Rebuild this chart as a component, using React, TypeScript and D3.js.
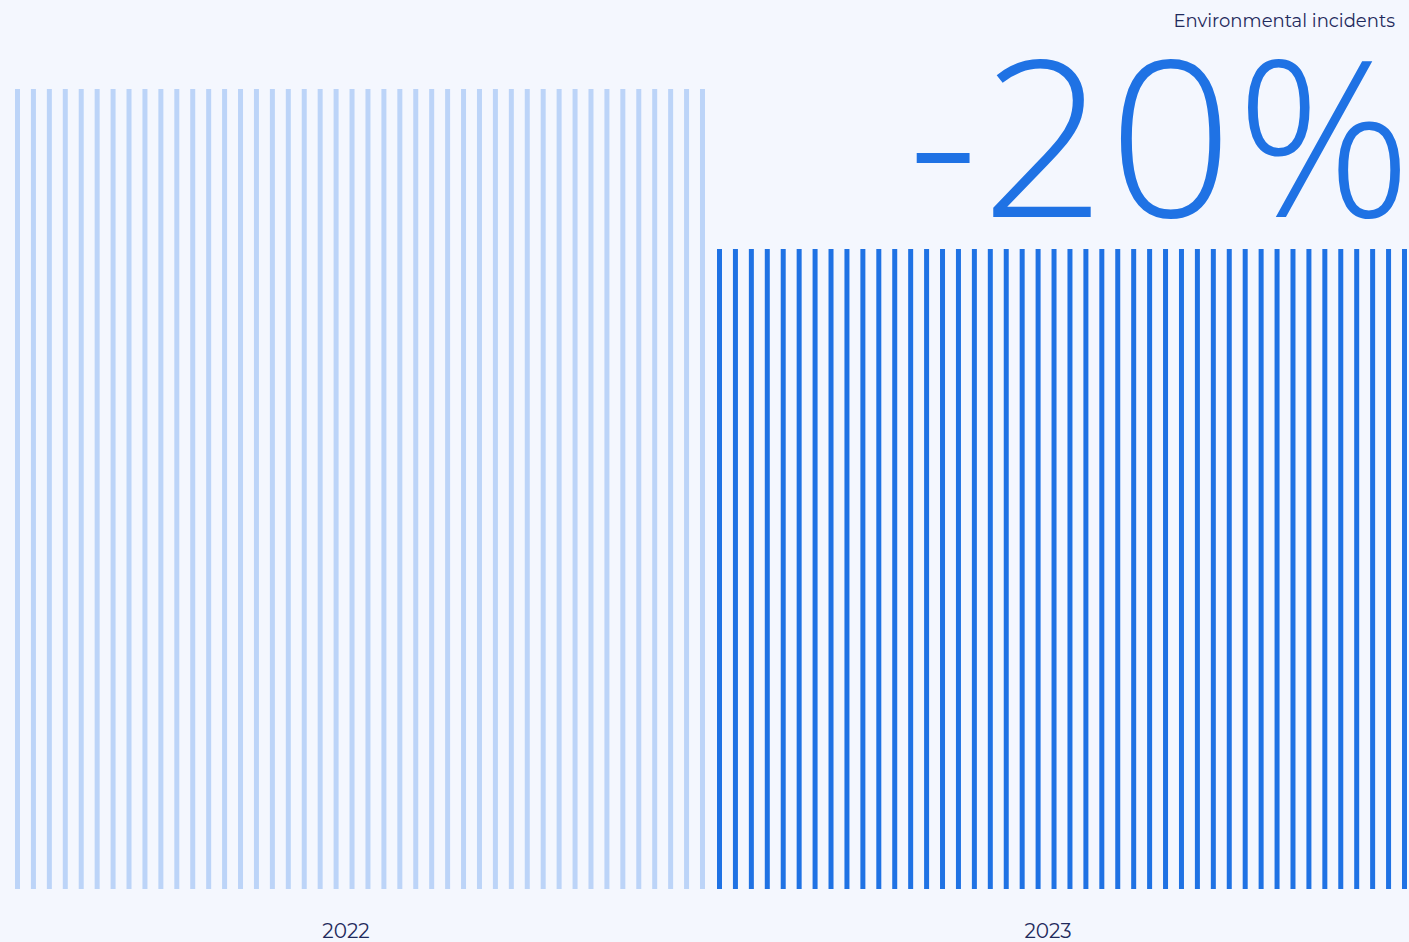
import React from "react";
import * as d3 from "d3";

const categories = ["2022", "2023"];
const values = [100, 80];
const stripeCount = 44;
const title = "Environmental incidents";
const changeLabel = "-20%";

const W = 1409;
const H = 942;

export default function App() {
  const x = d3.scaleBand<string>().domain(categories).range([15, 1419]).paddingInner(0).paddingOuter(0);
  const y = d3.scaleLinear().domain([0, 100]).range([889, 89]);
  const period = 15.93;
  const stripeW = 5;
  const stripes = d3.range(stripeCount);
  const colors = ["#bcd4f8", "#1f72e4"];

  return (
    <div style={{ position: "absolute", left: 0, top: 0, width: W, height: H, background: "#f4f7fe" }}>
      <svg width={W} height={H} style={{ display: "block" }}>
        <rect x={0} y={0} width={W} height={H} fill="#f4f7fe" />
        {categories.map((c, i) => {
          const start = i === 0 ? (x(c) as number) : 717;
          return (
            <g key={c}>
              {stripes.map((k) => (
                <rect
                  key={k}
                  x={start + k * period}
                  y={y(values[i])}
                  width={stripeW}
                  height={y(0) - y(values[i])}
                  fill={colors[i]}
                />
              ))}
              <text
                x={start + (stripeCount - 1) * period / 2 + stripeW / 2 - 14}
                y={938}
                textAnchor="middle"
                fontFamily="Montserrat, 'Open Sans', Lato, sans-serif"
                fontSize={20}
                fill="#1f2a5c"
              >
                {c}
              </text>
            </g>
          );
        })}
        <text
          x={1395}
          y={27}
          textAnchor="end"
          fontFamily="Montserrat, 'Open Sans', Lato, sans-serif"
          fontSize={18}
          fill="#1f2a5c"
        >
          {title}
        </text>
        <text
          x={1415}
          y={217}
          textAnchor="end"
          fontFamily="'Open Sans', sans-serif"
          fontWeight={300}
          fontSize={218}
          fill="#1f72e4"
          letterSpacing={3}
        >
          {changeLabel}
        </text>
      </svg>
    </div>
  );
}
